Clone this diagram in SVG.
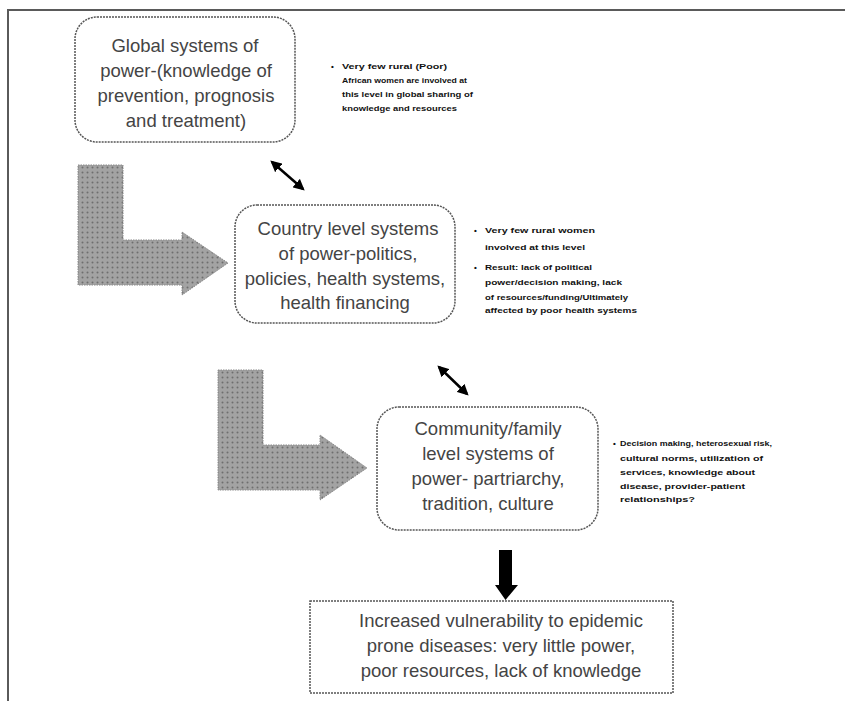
<svg xmlns="http://www.w3.org/2000/svg" width="845" height="701" viewBox="0 0 845 701">
<defs>
<pattern id="dots" width="5" height="5" patternUnits="userSpaceOnUse">
<rect width="5" height="5" fill="#a3a3a3"/>
<circle cx="2.5" cy="2.5" r="1" fill="#6e6e6e"/>
</pattern>
<marker id="ah" viewBox="0 0 10 10" refX="8" refY="5" markerWidth="4.5" markerHeight="4.5" orient="auto-start-reverse">
<path d="M0,0 L10,5 L0,10 z" fill="#000"/>
</marker>
<style>
.box{fill:#fff;stroke:#555;stroke-width:1.5;stroke-dasharray:2 1}
.t{font-family:"Liberation Sans",Arial,sans-serif;font-size:18.5px;fill:#444;text-anchor:middle}
.s{font-family:"Liberation Sans",Arial,sans-serif;font-size:8px;font-weight:bold;fill:#111}
.big{fill:url(#dots);stroke:#888;stroke-width:1;stroke-dasharray:1.5 1}
.dbl{stroke:#000;stroke-width:2.5;fill:none;marker-start:url(#ah);marker-end:url(#ah)}
</style>
</defs>
<rect width="845" height="701" fill="#fff"/>
<path d="M8,701 V10 H845" fill="none" stroke="#5a5a5a" stroke-width="2"/>

<g id="connectors">
<path class="big" d="M78,165 H123 V240 H182 V232 L228,263 L182,295 V285 H78 Z"/>
<path class="big" d="M218,370 H263 V445 H320 V435 L367,468 L320,500 V490 H218 Z"/>
<line class="dbl" x1="272" y1="162" x2="303" y2="189"/>
<line class="dbl" x1="439" y1="367" x2="467" y2="394"/>
<path d="M499,550 H512 V585 H518 L505.5,600 L495,585 H499 Z" fill="#000"/>
</g>

<g id="global">
<rect class="box" x="75" y="17" width="220" height="125" rx="22"/>
<text class="t" x="185" y="52">Global systems of</text>
<text class="t" x="186" y="77">power-(knowledge of</text>
<text class="t" x="186" y="102">prevention, prognosis</text>
<text class="t" x="186" y="127">and treatment)</text>
</g>

<g id="country">
<rect class="box" x="235" y="205" width="220" height="118" rx="22"/>
<text class="t" x="348" y="235">Country level systems</text>
<text class="t" x="348" y="260">of power-politics,</text>
<text class="t" x="345" y="285">policies, health systems,</text>
<text class="t" x="345" y="309">health financing</text>
</g>

<g id="community">
<rect class="box" x="377" y="407" width="221" height="123" rx="22"/>
<text class="t" x="488" y="435">Community/family</text>
<text class="t" x="488" y="460">level systems of</text>
<text class="t" x="488" y="485">power- partriarchy,</text>
<text class="t" x="488" y="510">tradition, culture</text>
</g>

<g id="outcome">
<rect class="box" x="310" y="601" width="363" height="92"/>
<text class="t" x="501" y="627">Increased vulnerability to epidemic</text>
<text class="t" x="501" y="652">prone diseases: very little power,</text>
<text class="t" x="501" y="677">poor resources, lack of knowledge</text>
</g>

<g id="note-global">
<text class="s" x="331" y="69">•</text>
<text class="s" x="342" y="69" textLength="105" lengthAdjust="spacingAndGlyphs">Very few rural (Poor)</text>
<text class="s" x="342" y="83" textLength="125" lengthAdjust="spacingAndGlyphs">African women are involved at</text>
<text class="s" x="342" y="97" textLength="131" lengthAdjust="spacingAndGlyphs">this level in global sharing of</text>
<text class="s" x="342" y="111" textLength="115" lengthAdjust="spacingAndGlyphs">knowledge and resources</text>
</g>

<g id="note-country">
<text class="s" x="474" y="233">•</text>
<text class="s" x="485" y="233" textLength="110" lengthAdjust="spacingAndGlyphs">Very few rural women</text>
<text class="s" x="485" y="250" textLength="100" lengthAdjust="spacingAndGlyphs">involved at this level</text>
<text class="s" x="474" y="270">•</text>
<text class="s" x="485" y="270" textLength="107" lengthAdjust="spacingAndGlyphs">Result: lack of political</text>
<text class="s" x="485" y="285" textLength="137" lengthAdjust="spacingAndGlyphs">power/decision making, lack</text>
<text class="s" x="485" y="300" textLength="143" lengthAdjust="spacingAndGlyphs">of resources/funding/Ultimately</text>
<text class="s" x="485" y="313" textLength="152" lengthAdjust="spacingAndGlyphs">affected by poor health systems</text>
</g>

<g id="note-community">
<text class="s" x="613" y="446">•</text>
<text class="s" x="620" y="446" textLength="152" lengthAdjust="spacingAndGlyphs">Decision making, heterosexual risk,</text>
<text class="s" x="620" y="461" textLength="143" lengthAdjust="spacingAndGlyphs">cultural norms, utilization of</text>
<text class="s" x="620" y="475" textLength="135" lengthAdjust="spacingAndGlyphs">services, knowledge about</text>
<text class="s" x="620" y="489" textLength="125" lengthAdjust="spacingAndGlyphs">disease, provider-patient</text>
<text class="s" x="620" y="502" textLength="75" lengthAdjust="spacingAndGlyphs">relationships?</text>
</g>
</svg>
